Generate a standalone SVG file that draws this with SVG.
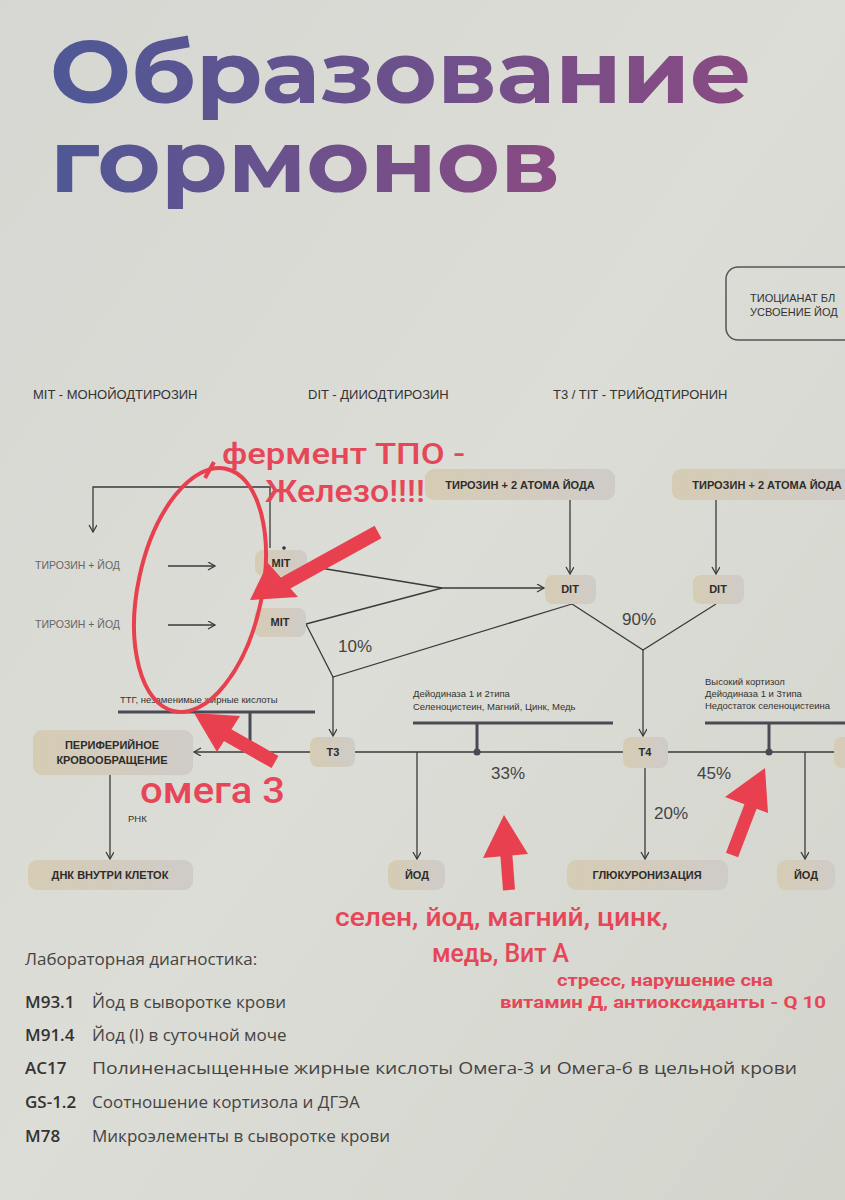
<svg xmlns="http://www.w3.org/2000/svg" width="845" height="1200" viewBox="0 0 845 1200">
<defs>
<linearGradient id="bg" x1="0" y1="0" x2="1" y2="1">
<stop offset="0" stop-color="#d6d7d2"/><stop offset="0.5" stop-color="#dcddd6"/><stop offset="1" stop-color="#d3d4cc"/>
</linearGradient>
<linearGradient id="tg" x1="0" y1="0" x2="1" y2="0">
<stop offset="0" stop-color="#4e5896"/><stop offset="1" stop-color="#8a4a82"/>
</linearGradient>
<linearGradient id="bx" x1="0" y1="0" x2="1" y2="0">
<stop offset="0" stop-color="#d6ccb4"/><stop offset="1" stop-color="#cfcbc8"/>
</linearGradient>
<marker id="ah" markerWidth="10" markerHeight="10" refX="8" refY="4" orient="auto" markerUnits="userSpaceOnUse">
<path d="M1,0 L8,4 L1,8" fill="none" stroke="#3a3a3a" stroke-width="1.3"/>
</marker>
<style>
.ln{stroke:#3a3a3a;stroke-width:1.3;fill:none}
.bar{stroke:#4a4a56;stroke-width:3;fill:none}
.box{fill:url(#bx)}
.bt{font-family:"Liberation Sans",Arial,sans-serif;font-weight:bold;font-size:11px;fill:#2e2c2a;text-anchor:middle}
.lg{font-family:"Liberation Sans",Arial,sans-serif;font-size:13px;fill:#333}
.sm{font-family:"Liberation Sans",Arial,sans-serif;font-size:9.5px;fill:#333}
.gr{font-family:"Liberation Sans",Arial,sans-serif;font-size:10.5px;fill:#666}
.pc{font-family:"Liberation Sans",Arial,sans-serif;font-size:17px;fill:#444}
.red{font-family:Roboto,"Liberation Sans",sans-serif;font-weight:500;fill:#e64658}
.redb{font-family:Roboto,"Liberation Sans",sans-serif;font-weight:bold;fill:#e64658}
.lab{font-family:"Open Sans","Liberation Sans",sans-serif;font-size:17px;fill:#444}
.labb{font-family:"Open Sans","Liberation Sans",sans-serif;font-size:17px;font-weight:600;fill:#333}
.ra{fill:#e8404f}
</style>
</defs>
<rect width="845" height="1200" fill="url(#bg)"/>

<g id="title">
<text x="50" y="103" font-family="Montserrat,'Open Sans',sans-serif" font-weight="bold" font-size="88" fill="url(#tg)" textLength="702" lengthAdjust="spacingAndGlyphs">Образование</text>
<text x="50" y="192" font-family="Montserrat,'Open Sans',sans-serif" font-weight="bold" font-size="88" fill="url(#tg)" textLength="510" lengthAdjust="spacingAndGlyphs">гормонов</text>
</g>

<g id="thiocyanate">
<rect x="726" y="267" width="140" height="73" rx="12" fill="none" stroke="#555" stroke-width="1.5"/>
<text x="750" y="302" font-family="Liberation Sans,Arial,sans-serif" font-size="11" fill="#333">ТИОЦИАНАТ БЛ</text>
<text x="750" y="316" font-family="Liberation Sans,Arial,sans-serif" font-size="11" fill="#333">УСВОЕНИЕ ЙОД</text>
</g>

<g id="legend">
<text x="33" y="399" class="lg">MIT - МОНОЙОДТИРОЗИН</text>
<text x="308" y="399" class="lg">DIT - ДИИОДТИРОЗИН</text>
<text x="553" y="399" class="lg">T3 / TIT  - ТРИЙОДТИРОНИН</text>
</g>

<g id="connectors">
<polyline class="ln" points="270,548 270,487 93,487 93,532" marker-end="url(#ah)"/>
<line class="ln" x1="168" y1="566" x2="215" y2="566" marker-end="url(#ah)"/>
<line class="ln" x1="168" y1="625" x2="215" y2="625" marker-end="url(#ah)"/>
<line class="ln" x1="570" y1="500" x2="570" y2="574" marker-end="url(#ah)"/>
<line class="ln" x1="716" y1="500" x2="716" y2="574" marker-end="url(#ah)"/>
<line class="ln" x1="308" y1="566" x2="442" y2="588"/>
<line class="ln" x1="306" y1="624" x2="442" y2="588"/>
<line class="ln" x1="442" y1="588" x2="544" y2="588" marker-end="url(#ah)"/>
<polyline class="ln" points="306,624 333,677 572,604"/>
<line class="ln" x1="333" y1="677" x2="333" y2="736" marker-end="url(#ah)"/>
<polyline class="ln" points="572,604 643,650 716,604"/>
<line class="ln" x1="643" y1="650" x2="643" y2="736" marker-end="url(#ah)"/>
<line class="ln" x1="310" y1="752" x2="194" y2="752" marker-end="url(#ah)"/>
<line class="ln" x1="355" y1="752" x2="623" y2="752"/>
<line class="ln" x1="668" y1="752" x2="835" y2="752"/>
<line class="ln" x1="417" y1="752" x2="417" y2="859" marker-end="url(#ah)"/>
<line class="ln" x1="645" y1="768" x2="645" y2="859" marker-end="url(#ah)"/>
<line class="ln" x1="805" y1="752" x2="805" y2="859" marker-end="url(#ah)"/>
<line class="ln" x1="110" y1="775" x2="110" y2="859" marker-end="url(#ah)"/>
<line class="bar" x1="118" y1="712" x2="315" y2="712"/>
<line class="bar" x1="250" y1="712" x2="250" y2="752"/>
<line class="bar" x1="413" y1="723" x2="613" y2="723"/>
<line class="bar" x1="477" y1="723" x2="477" y2="752"/>
<circle cx="477" cy="752" r="3.5" fill="#4a4a56"/>
<line class="bar" x1="705" y1="723" x2="845" y2="723"/>
<line class="bar" x1="769" y1="723" x2="769" y2="752"/>
<circle cx="769" cy="752" r="3.5" fill="#4a4a56"/>
<circle cx="284" cy="548" r="1.8" fill="#333"/>
</g>

<g id="labels">
<text x="35" y="569" class="gr">ТИРОЗИН + ЙОД</text>
<text x="35" y="628" class="gr">ТИРОЗИН + ЙОД</text>
<text x="338" y="652" class="pc">10%</text>
<text x="622" y="625" class="pc">90%</text>
<text x="491" y="779" class="pc">33%</text>
<text x="697" y="779" class="pc">45%</text>
<text x="654" y="819" class="pc">20%</text>
<text x="128" y="822" class="sm" font-size="11">РНК</text>
<text x="120" y="703" class="sm" font-size="9">ТТГ, незаменимые жирные кислоты</text>
<text x="413" y="697" class="sm">Дейодиназа 1 и 2типа</text>
<text x="413" y="710" class="sm">Селеноцистеин, Магний, Цинк, Медь</text>
<text x="705" y="685" class="sm">Высокий кортизол</text>
<text x="705" y="697" class="sm">Дейодиназа 1 и 3типа</text>
<text x="705" y="709" class="sm">Недостаток селеноцистеина</text>
</g>

<g id="n-tyr2a"><rect class="box" x="425" y="469" width="190" height="31" rx="9"/><text class="bt" x="520" y="489">ТИРОЗИН + 2 АТОМА ЙОДА</text></g>
<g id="n-tyr2b"><rect class="box" x="672" y="469" width="190" height="31" rx="9"/><text class="bt" x="767" y="489">ТИРОЗИН + 2 АТОМА ЙОДА</text></g>
<g id="n-dit1"><rect class="box" x="545" y="575" width="51" height="29" rx="8"/><text class="bt" x="570" y="593">DIT</text></g>
<g id="n-dit2"><rect class="box" x="693" y="575" width="51" height="29" rx="8"/><text class="bt" x="718" y="593">DIT</text></g>
<g id="n-mit1"><rect class="box" x="255" y="550" width="52" height="26" rx="8"/><text class="bt" x="281" y="567">MIT</text></g>
<g id="n-mit2"><rect class="box" x="254" y="608" width="52" height="29" rx="8"/><text class="bt" x="280" y="626">MIT</text></g>
<g id="n-t3"><rect class="box" x="310" y="737" width="45" height="30" rx="8"/><text class="bt" x="333" y="756">T3</text></g>
<g id="n-t4"><rect class="box" x="623" y="737" width="45" height="31" rx="8"/><text class="bt" x="645" y="756">T4</text></g>
<g id="n-right"><rect class="box" x="834" y="737" width="30" height="31" rx="8"/></g>
<g id="n-periph"><rect class="box" x="33" y="730" width="160" height="45" rx="9"/><text class="bt" x="112" y="749">ПЕРИФЕРИЙНОЕ</text><text class="bt" x="112" y="764">КРОВООБРАЩЕНИЕ</text></g>
<g id="n-dna"><rect class="box" x="28" y="860" width="165" height="30" rx="9"/><text class="bt" x="110" y="879">ДНК ВНУТРИ КЛЕТОК</text></g>
<g id="n-iod1"><rect class="box" x="388" y="860" width="57" height="30" rx="9"/><text class="bt" x="417" y="879">ЙОД</text></g>
<g id="n-gluc"><rect class="box" x="567" y="860" width="161" height="30" rx="9"/><text class="bt" x="647" y="879">ГЛЮКУРОНИЗАЦИЯ</text></g>
<g id="n-iod2"><rect class="box" x="777" y="860" width="58" height="30" rx="9"/><text class="bt" x="806" y="879">ЙОД</text></g>

<g id="lab">
<text x="25" y="965" class="lab" font-size="16" fill="#666">Лабораторная диагностика:</text>
<text x="25" y="1008" class="labb">M93.1</text><text x="92" y="1008" class="lab">Йод в сыворотке крови</text>
<text x="25" y="1041" class="labb">M91.4</text><text x="92" y="1041" class="lab">Йод (I) в суточной моче</text>
<text x="25" y="1074" class="labb">AC17</text><text x="92" y="1074" class="lab" textLength="705" lengthAdjust="spacingAndGlyphs">Полиненасыщенные жирные кислоты Омега-3 и Омега-6 в цельной крови</text>
<text x="25" y="1108" class="labb">GS-1.2</text><text x="92" y="1108" class="lab">Соотношение кортизола и ДГЭА</text>
<text x="25" y="1142" class="labb">M78</text><text x="92" y="1142" class="lab">Микроэлементы в сыворотке крови</text>
</g>

<g id="annotations">
<ellipse cx="200" cy="590" rx="62" ry="124" transform="rotate(12 200 590)" fill="none" stroke="#e8404f" stroke-width="4"/>
<path d="M205,478 L214,462" stroke="#e8404f" stroke-width="4" fill="none"/>
<line x1="378" y1="532" x2="282" y2="585" stroke="#e8404f" stroke-width="14"/>
<polygon class="ra" points="250,600 268,563 298,597"/>
<line x1="275" y1="762" x2="215" y2="728" stroke="#e8404f" stroke-width="14"/>
<polygon class="ra" points="194,713 240,716 217,752"/>
<line x1="509" y1="890" x2="506" y2="850" stroke="#e8404f" stroke-width="12"/>
<polygon class="ra" points="504,815 483,858 528,854"/>
<line x1="732" y1="855" x2="753" y2="800" stroke="#e8404f" stroke-width="13"/>
<polygon class="ra" points="765,768 725,797 768,813"/>
<text x="222" y="464" class="red" font-size="30" textLength="243" lengthAdjust="spacingAndGlyphs">фермент ТПО -</text>
<text x="265" y="502" class="red" font-size="32" textLength="160" lengthAdjust="spacingAndGlyphs">Железо!!!!</text>
<text x="140" y="803" class="red" font-size="36" textLength="145" lengthAdjust="spacingAndGlyphs">омега 3</text>
<text x="335" y="926" class="red" font-size="26" textLength="333" lengthAdjust="spacingAndGlyphs">селен, йод, магний, цинк,</text>
<text x="432" y="962" class="red" font-size="26" textLength="137" lengthAdjust="spacingAndGlyphs">медь, Вит А</text>
<text x="557" y="986" class="redb" font-size="17" textLength="216" lengthAdjust="spacingAndGlyphs">стресс, нарушение сна</text>
<text x="500" y="1008" class="redb" font-size="17" textLength="326" lengthAdjust="spacingAndGlyphs">витамин Д, антиоксиданты - Q 10</text>
</g>
</svg>
